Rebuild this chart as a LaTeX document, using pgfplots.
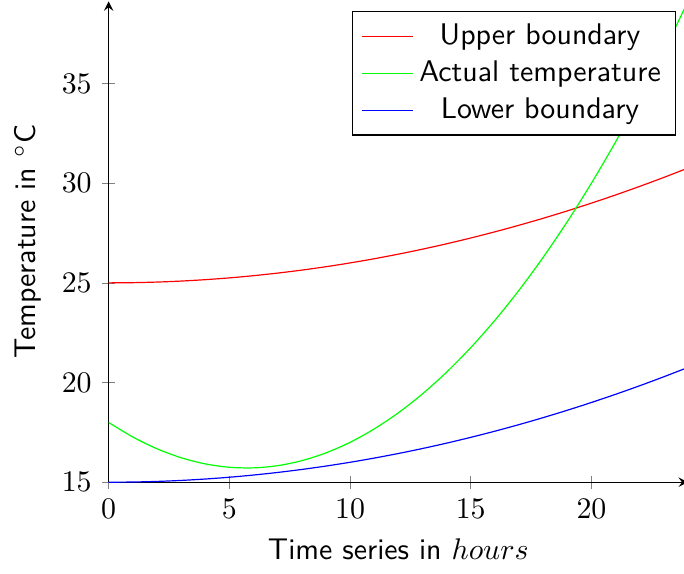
\documentclass[border=0pt]{standalone}
\usepackage{pgfplots}
\pgfplotsset{compat=1.18}
\begin{document}
\begin{tikzpicture}
\begin{axis}[
  scale only axis,
  width=194pt, height=161pt,
  axis lines=left,
  xmin=0, xmax=24,
  ymin=15, ymax=39.12,
  xtick={0,5,10,15,20},
  ytick={15,20,25,30,35},
  xlabel={\sffamily Time series in $hours$},
  ylabel={\sffamily Temperature in $^\circ$C},
  legend style={font=\sffamily, at={(0.98,0.98)}, anchor=north east},
  legend cell align=center,
]
\addplot[red, smooth] coordinates {
(0,25) (1,25.01) (2,25.04) (3,25.09) (4,25.16) (5,25.25) (6,25.36) (7,25.49)
(8,25.64) (9,25.81) (10,26) (11,26.21) (12,26.44) (13,26.69) (14,26.96)
(15,27.25) (16,27.56) (17,27.89) (18,28.24) (19,28.61) (20,29) (21,29.41)
(22,29.84) (23,30.29) (24,30.76)};
\addlegendentry{Upper boundary}
\addplot[green, smooth] coordinates {
(0,18) (1,17.27) (2,16.68) (3,16.23) (4,15.92) (5,15.75) (6,15.72) (7,15.83)
(8,16.08) (9,16.47) (10,17) (11,17.67) (12,18.48) (13,19.43) (14,20.52)
(15,21.75) (16,23.12) (17,24.63) (18,26.28) (19,28.07) (20,30) (21,32.07)
(22,34.28) (23,36.63) (24,39.12)};
\addlegendentry{Actual temperature}
\addplot[blue, smooth] coordinates {
(0,15) (1,15.01) (2,15.04) (3,15.09) (4,15.16) (5,15.25) (6,15.36) (7,15.49)
(8,15.64) (9,15.81) (10,16) (11,16.21) (12,16.44) (13,16.69) (14,16.96)
(15,17.25) (16,17.56) (17,17.89) (18,18.24) (19,18.61) (20,19) (21,19.41)
(22,19.84) (23,20.29) (24,20.76)};
\addlegendentry{Lower boundary}
\coordinate (tr) at (rel axis cs:1,1);
\end{axis}
\pgfresetboundingbox
\path ([xshift=-1.5pt,yshift=-1.3pt]current axis.outer south west) rectangle ([xshift=-1.34pt,yshift=0.46pt]tr);
\end{tikzpicture}
\end{document}
